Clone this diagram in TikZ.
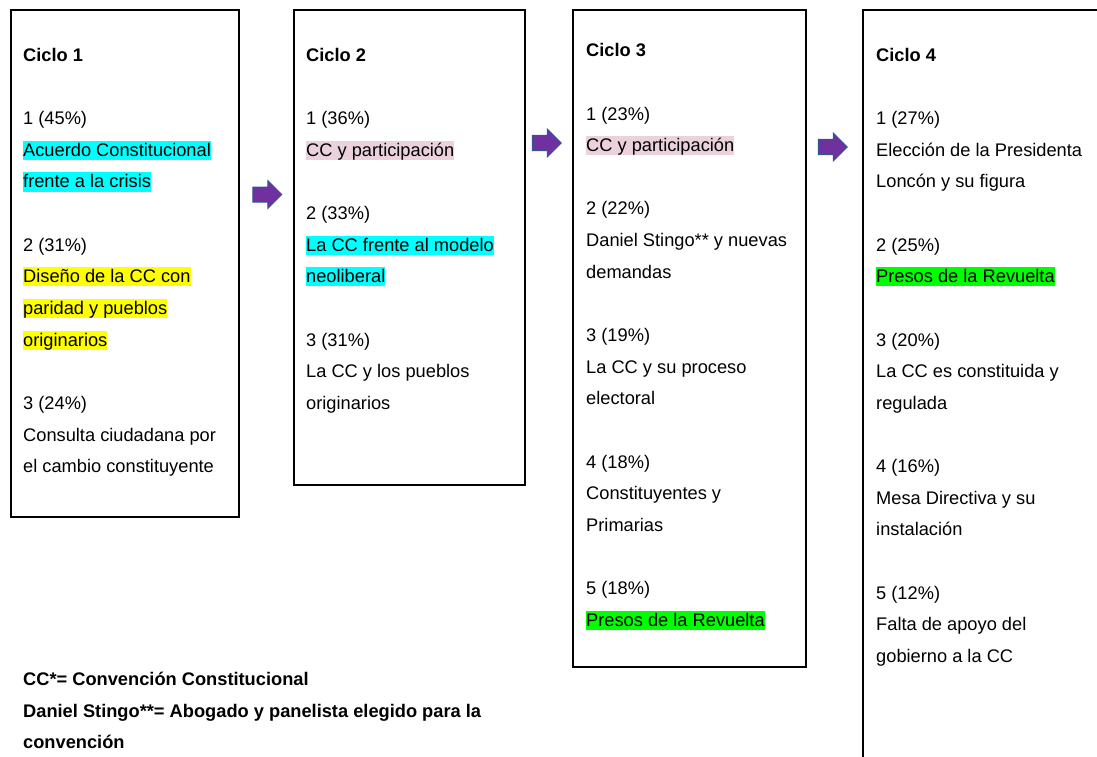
\documentclass[tikz,border=0pt]{standalone}
\usepackage{fontspec}
\setmainfont{Liberation Sans}
\usetikzlibrary{shapes.arrows}

\definecolor{celeste}{RGB}{0,255,255}
\definecolor{amarillo}{RGB}{255,255,0}
\definecolor{verde}{RGB}{0,255,0}
\definecolor{rosa}{RGB}{234,209,220}
\definecolor{morado}{RGB}{112,48,160}
\definecolor{borde}{RGB}{47,85,151}

% highlighted line
\newcommand{\hl}[2]{{\setlength{\fboxsep}{0pt}\colorbox{#1}{\rule[-3.7pt]{0pt}{19.2pt}#2}}}
\newcommand{\ciclo}[1]{\rule{0pt}{14pt}\textbf{Ciclo #1}}

\begin{document}
\begin{tikzpicture}
  [x=1pt,y=-1pt,
box/.style={line width=1.7pt, draw=black},
txt/.style={anchor=north west, inner sep=0pt, align=left,
  font=\fontsize{18.25}{31.65}\selectfont},
flecha/.style={single arrow, fill=morado, draw=borde, line width=1pt,
  inner xsep=0pt, inner ysep=7pt, minimum height=29pt,
  single arrow head extend=6.5pt, single arrow tip angle=90}]

\useasboundingbox (0,0) rectangle (1097,757);

% cajas
\draw [box] (11,10) rectangle (239,517);
\draw [box] (294,10) rectangle (525,485);
\draw [box] (573,10) rectangle (806,667);
\draw [box] (863,757) -- (863,10) -- (1097,10);

% flechas
\node [flecha] (f12) at (263.5,194.5) {};
\node [flecha] (f23) at (543,143) {};
\node [flecha] (f34) at (829,147) {};

\node [txt] (c1) at (23,47) {\ciclo{1}\\[31.65pt]
  1 (45\%)\\
  \hl{celeste}{Acuerdo Constitucional}\\
  \hl{celeste}{frente a la crisis}\\[31.65pt]
  2 (31\%)\\
  \hl{amarillo}{Diseño de la CC con}\\
  \hl{amarillo}{paridad y pueblos}\\
  \hl{amarillo}{originarios}\\[31.65pt]
  3 (24\%)\\
  Consulta ciudadana por\\
  el cambio constituyente};

\node [txt] (c2) at (306,47) {\ciclo{2}\\[31.65pt]
  1 (36\%)\\
  \hl{rosa}{CC y participación}\\[31.65pt]
  2 (33\%)\\
  \hl{celeste}{La CC frente al modelo}\\
  \hl{celeste}{neoliberal}\\[31.65pt]
  3 (31\%)\\
  La CC y los pueblos\\
  originarios};

\node [txt] (c3) at (586,42.5) {\ciclo{3}\\[31.65pt]
  1 (23\%)\\
  \hl{rosa}{CC y participación}\\[31.65pt]
  2 (22\%)\\
  Daniel Stingo** y nuevas\\
  demandas\\[31.65pt]
  3 (19\%)\\
  La CC y su proceso\\
  electoral\\[31.65pt]
  4 (18\%)\\
  Constituyentes y\\
  Primarias\\[31.65pt]
  5 (18\%)\\
  \hl{verde}{Presos de la Revuelta}};

\node [txt] (c4) at (876,47) {\ciclo{4}\\[31.65pt]
  1 (27\%)\\
  Elección de la Presidenta\\
  Loncón y su figura\\[31.65pt]
  2 (25\%)\\
  \hl{verde}{Presos de la Revuelta}\\[31.65pt]
  3 (20\%)\\
  La CC es constituida y\\
  regulada\\[31.65pt]
  4 (16\%)\\
  Mesa Directiva y su\\
  instalación\\[31.65pt]
  5 (12\%)\\
  Falta de apoyo del\\
  gobierno a la CC};

\node [txt, font=\fontsize{18.25}{31.6}\selectfont\bfseries] (nota) at (23,671.5)
  {\rule{0pt}{14pt}CC*= Convención Constitucional\\
  Daniel Stingo**= Abogado y panelista elegido para la\\
  convención};

\end{tikzpicture}
\end{document}
